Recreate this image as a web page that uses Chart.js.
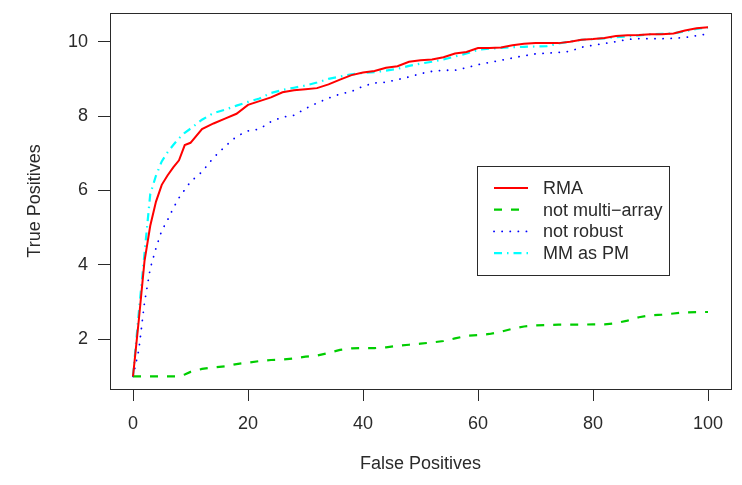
<!DOCTYPE html>
<html lang="en">
<head>
    <meta charset="UTF-8">
    <title>True vs False Positives</title>
    <style>
        html, body { margin: 0; padding: 0; background: #fff; }
        canvas { display: block; }
    </style>
</head>
<body>
    <canvas id="rocChart" width="742" height="485"></canvas>

    <script src="https://cdn.jsdelivr.net/npm/chart.js@4/dist/chart.umd.min.js"></script>
    <script>
        // false positive counts shared by every curve
        var falsePos = [0, 1, 2, 3, 4, 5, 6, 7, 8, 9, 10, 12, 14, 16, 18, 20, 22, 24, 26, 28,
            30, 32, 34, 36, 38, 40, 42, 44, 46, 48, 50, 52, 54, 56, 58, 60, 62, 64, 66, 68,
            70, 72, 74, 76, 78, 80, 82, 84, 86, 88, 90, 92, 94, 96, 98, 100];

        var rma = [1.0, 2.5, 4.1, 5.05, 5.7, 6.15, 6.4, 6.62, 6.81, 7.22, 7.28, 7.65, 7.8, 7.93, 8.06, 8.3, 8.4, 8.5, 8.64, 8.69,
            8.72, 8.75, 8.85, 8.98, 9.1, 9.17, 9.21, 9.3, 9.34, 9.46, 9.5, 9.52, 9.58, 9.68, 9.72, 9.83, 9.83, 9.84, 9.9, 9.94,
            9.96, 9.96, 9.96, 10.0, 10.05, 10.07, 10.1, 10.15, 10.17, 10.18, 10.2, 10.2, 10.22, 10.3, 10.36, 10.39];

        var notMultiArray = [1.0, 1.0, 1.0, 1.0, 1.0, 1.0, 1.0, 1.0, 1.0, 1.05, 1.12, 1.2, 1.24, 1.27, 1.33, 1.37, 1.41, 1.44, 1.45, 1.48,
            1.53, 1.56, 1.63, 1.71, 1.75, 1.76, 1.76, 1.78, 1.82, 1.85, 1.88, 1.91, 1.95, 2.02, 2.09, 2.11, 2.14, 2.2, 2.28, 2.34,
            2.37, 2.38, 2.39, 2.39, 2.39, 2.4, 2.4, 2.43, 2.5, 2.59, 2.64, 2.66, 2.69, 2.72, 2.73, 2.73];

        var notRobust = [1.0, 1.7, 2.98, 3.9, 4.45, 4.92, 5.2, 5.52, 5.8, 6.02, 6.23, 6.5, 6.88, 7.18, 7.45, 7.6, 7.65, 7.85, 7.97, 8.02,
            8.2, 8.35, 8.48, 8.59, 8.66, 8.8, 8.89, 8.91, 8.98, 9.05, 9.14, 9.2, 9.23, 9.23, 9.3, 9.38, 9.44, 9.5, 9.56, 9.62,
            9.67, 9.69, 9.71, 9.74, 9.85, 9.9, 9.95, 10.0, 10.06, 10.08, 10.08, 10.08, 10.09, 10.11, 10.16, 10.21];

        var mmAsPm = [1.0, 2.7, 4.3, 5.9, 6.4, 6.78, 7.02, 7.22, 7.4, 7.55, 7.66, 7.9, 8.08, 8.17, 8.28, 8.38, 8.47, 8.62, 8.7, 8.76,
            8.82, 8.9, 9.0, 9.06, 9.12, 9.16, 9.18, 9.22, 9.27, 9.35, 9.41, 9.46, 9.52, 9.6, 9.68, 9.78, 9.81, 9.83, 9.85, 9.86,
            9.87, 9.88, 9.95, 10.0, 10.05, 10.07, 10.09, 10.12, 10.14, 10.17, 10.2, 10.21, 10.22, 10.28, 10.34, 10.38];

        var xTicks = [0, 20, 40, 60, 80, 100];
        var yTicks = [2, 4, 6, 8, 10];

        var ink = '#2a2a2a';
        var font = 'Liberation Sans, Arial, sans-serif';

        function pairs(ys) {
            return falsePos.map(function (x, i) { return { x: x, y: ys[i] }; });
        }

        // box around the plot region
        var framePlugin = {
            id: 'frame',
            afterDraw: function (chart) {
                var a = chart.chartArea, ctx = chart.ctx;
                ctx.save();
                ctx.strokeStyle = ink;
                ctx.lineWidth = 1;
                ctx.strokeRect(Math.round(a.left) + 0.5, Math.round(a.top) + 0.5,
                    Math.round(a.right - a.left), Math.round(a.bottom - a.top));
                ctx.restore();
            }
        };

        // boxed legend inside the plot, line samples + labels
        var boxLegend = {
            id: 'boxLegend',
            afterDraw: function (chart) {
                var ctx = chart.ctx;
                var left = 477, top = 166, w = 192, h = 109;
                ctx.save();
                ctx.fillStyle = '#fff';
                ctx.fillRect(left, top, w, h);
                ctx.strokeStyle = ink;
                ctx.lineWidth = 1;
                ctx.strokeRect(left + 0.5, top + 0.5, w, h);
                ctx.font = '18px ' + font;
                ctx.textBaseline = 'middle';
                chart.data.datasets.forEach(function (ds, i) {
                    var y = 188 + i * 21.7;
                    ctx.strokeStyle = ds.borderColor;
                    ctx.lineWidth = ds.borderWidth;
                    ctx.lineCap = ds.borderCapStyle || 'butt';
                    ctx.setLineDash(ds.borderDash || []);
                    ctx.beginPath();
                    ctx.moveTo(494, y);
                    ctx.lineTo(528, y);
                    ctx.stroke();
                    ctx.setLineDash([]);
                    ctx.fillStyle = ink;
                    ctx.fillText(ds.label, 543, y + 1);
                });
                ctx.restore();
            }
        };

        var ctx = document.getElementById('rocChart').getContext('2d');
        var chart = new Chart(ctx, {
            type: 'line',
            data: {
                datasets: [
                    { label: 'RMA', data: pairs(rma), borderColor: '#ff0000', borderWidth: 2 },
                    { label: 'not multi\u2212array', data: pairs(notMultiArray), borderColor: '#00cd00', borderWidth: 2.2, borderDash: [8, 9] },
                    { label: 'not robust', data: pairs(notRobust), borderColor: '#0000ff', borderWidth: 1.8, borderDash: [0.1, 8], borderCapStyle: 'round' },
                    { label: 'MM as PM', data: pairs(mmAsPm), borderColor: '#00ffff', borderWidth: 2.2, borderDash: [8, 5, 1.5, 5] }
                ]
            },
            options: {
                responsive: false,
                animation: false,
                elements: { point: { radius: 0 }, line: { tension: 0, fill: false } },
                layout: { padding: { left: 0, top: 13, right: 11, bottom: 0 } },
                plugins: {
                    legend: { display: false },
                    tooltip: { enabled: false }
                },
                scales: {
                    x: {
                        type: 'linear',
                        min: -4,
                        max: 104,
                        afterBuildTicks: function (s) { s.ticks = xTicks.map(function (v) { return { value: v }; }); },
                        afterFit: function (s) { s.height = 96; s.paddingLeft = 0; s.paddingRight = 0; },
                        border: { display: false },
                        grid: { drawOnChartArea: false, drawTicks: true, tickLength: 12, color: ink, lineWidth: 1 },
                        ticks: { color: ink, font: { family: font, size: 18 }, padding: 12, maxRotation: 0 },
                        title: { display: true, text: 'False Positives', color: ink, font: { family: font, size: 18 }, padding: { bottom: 10 } }
                    },
                    y: {
                        type: 'linear',
                        min: 0.66,
                        max: 10.77,
                        afterBuildTicks: function (s) { s.ticks = yTicks.map(function (v) { return { value: v }; }); },
                        afterFit: function (s) { s.width = 110; s.paddingTop = 0; s.paddingBottom = 0; },
                        border: { display: false },
                        grid: { drawOnChartArea: false, drawTicks: true, tickLength: 12, color: ink, lineWidth: 1 },
                        ticks: { color: ink, font: { family: font, size: 18 }, padding: 10 },
                        title: { display: true, text: 'True Positives', color: ink, font: { family: font, size: 18 }, padding: { top: 24 } }
                    }
                }
            },
            plugins: [framePlugin, boxLegend]
        });
    </script>
</body>
</html>
